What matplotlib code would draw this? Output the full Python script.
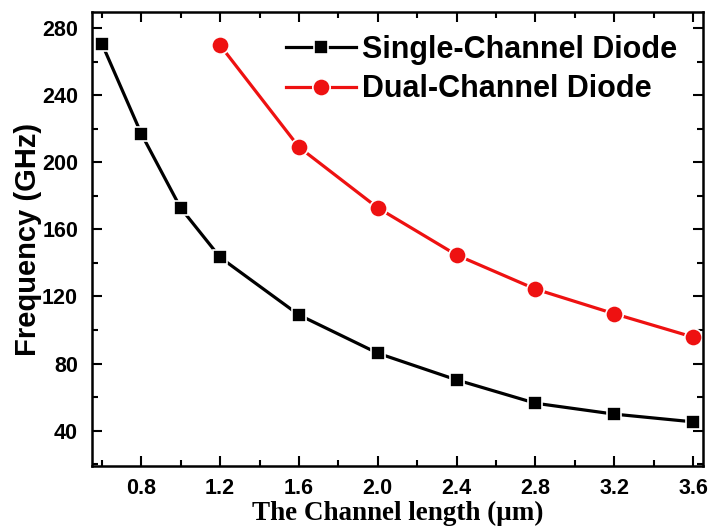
import matplotlib
matplotlib.use("Agg")
import matplotlib.pyplot as plt
from matplotlib.ticker import MultipleLocator

# channel length (um) and frequency (GHz)
single_x = [0.6, 0.8, 1.0, 1.2, 1.6, 2.0, 2.4, 2.8, 3.2, 3.6]
single_y = [270.7, 217.0, 172.7, 143.3, 109.0, 86.2, 70.3, 56.4, 49.9, 45.3]
dual_x = [1.2, 1.6, 2.0, 2.4, 2.8, 3.2, 3.6]
dual_y = [269.7, 209.0, 172.8, 144.7, 124.4, 109.7, 95.8]

x_ticks = [0.8, 1.2, 1.6, 2.0, 2.4, 2.8, 3.2, 3.6]
y_ticks = [40, 80, 120, 160, 200, 240, 280]

plt.rcParams["font.family"] = "Liberation Sans"
plt.rcParams["font.weight"] = "bold"

fig = plt.figure(figsize=(7.1, 5.27), dpi=100)
ax = fig.add_axes([92 / 710, 1 - 466 / 527, (703 - 92) / 710, (466 - 12) / 527])

ax.plot(single_x, single_y, color="black", lw=2.3, marker="s", ms=10.5,
        mec="white", mew=1.2, label="Single-Channel Diode")
ax.plot(dual_x, dual_y, color="#ee1111", lw=2.3, marker="o", ms=12.5,
        mec="white", mew=1.2, label="Dual-Channel Diode")

ax.set_xlim(0.55, 3.65)
ax.set_ylim(19, 289.5)
ax.set_xticks(x_ticks)
ax.set_xticklabels([f"{v:.1f}" for v in x_ticks])
ax.set_yticks(y_ticks)
ax.xaxis.set_minor_locator(MultipleLocator(0.2))
ax.yaxis.set_minor_locator(MultipleLocator(20))
ax.tick_params(which="both", direction="in", top=True, right=True, width=1.5,
               labelsize=15.5)
ax.tick_params(which="major", length=7)
ax.tick_params(which="minor", length=4)
ax.tick_params(axis="x", pad=9)
ax.tick_params(axis="y", pad=10)
for sp in ax.spines.values():
    sp.set_linewidth(1.8)

ax.set_xlabel("The Channel length (\u03bcm)", fontsize=19.5, fontweight="bold",
              family="Liberation Serif", labelpad=1)
ax.set_ylabel("Frequency (GHz)", fontsize=21, fontweight="bold", labelpad=0)

ax.legend(loc="upper right", bbox_to_anchor=(0.978, 0.976), frameon=False,
          fontsize=22, handlelength=2.3, handletextpad=0.2, borderaxespad=0,
          labelspacing=0.3)

fig.savefig("out.png", dpi=100)
